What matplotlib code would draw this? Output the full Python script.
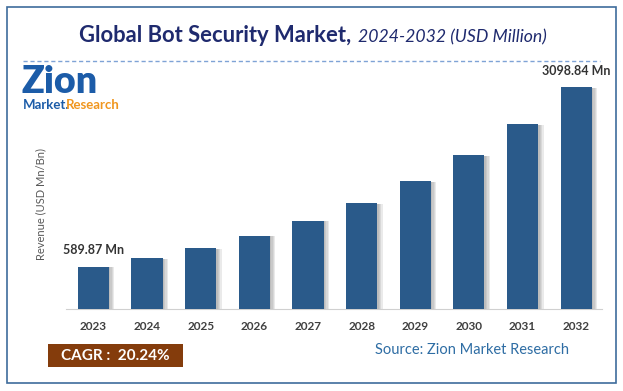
import matplotlib.pyplot as plt
import matplotlib.patheffects as pe
from matplotlib.patches import Rectangle

years = ['2023', '2024', '2025', '2026', '2027', '2028', '2029', '2030', '2031', '2032']
revenue = [589.87, 709, 853, 1025, 1233, 1482, 1782, 2143, 2576, 3098.84]
first_label = '589.87 Mn'
last_label = '3098.84 Mn'
cagr_text = 'CAGR :  20.24%'
source_text = 'Source: Zion Market Research'

W, H = 623, 391
bar_color = '#2A5A8A'
font = 'Lato'

fig = plt.figure(figsize=(W / 100, H / 100), dpi=100)
fig.patch.set_facecolor('white')


def fx(px):
    return px / W


def fy(py):
    return 1 - py / H


# outer frame
fig.add_artist(Rectangle((fx(7), fy(383)), fx(616) - fx(7), fy(7) - fy(383),
                         transform=fig.transFigure, fill=False,
                         edgecolor='#3E6C9C', linewidth=1.2))

# title: bold part + italic part
fig.text(fx(351), fy(36), 'Global Bot Security Market,', ha='right', va='center',
         fontsize=15.8, fontweight='bold', color='#1F2A6E', family=font)
fig.text(fx(358), fy(37), '2024-2032 (USD Million)', ha='left', va='center',
         fontsize=12.7, fontstyle='italic', color='#1F2A6E', family=font)

# dashed separator
fig.add_artist(plt.Line2D([fx(23), fx(600)], [fy(61), fy(61)], transform=fig.transFigure,
                          color='#7FA3D6', linewidth=1, linestyle=(0, (3, 2))))

# logo
fig.text(fx(22), fy(82), 'Zion', ha='left', va='center', fontsize=27,
         fontweight='heavy', color='#1C5CA8', family=font)
fig.text(fx(23), fy(105), 'Market.', ha='left', va='center', fontsize=9.5,
         fontweight='bold', color='#1C5CA8', family=font)
fig.text(fx(66), fy(105), 'Research', ha='left', va='center', fontsize=9.5,
         fontweight='bold', color='#F0961E', family=font)

# axes
ax = fig.add_axes([fx(66), fy(309), fx(602) - fx(66), fy(80) - fy(309)])
x = range(len(years))
bars = ax.bar(x, revenue, width=0.58, color=bar_color, zorder=3)
# soft shadow to the right of each bar
shadow = [pe.SimplePatchShadow(offset=(k, -0.5), shadow_rgbFace='#707070', alpha=0.14)
          for k in (4, 3, 2, 1)]
for b in bars:
    b.set_path_effects(shadow + [pe.Normal()])

ax.set_xlim(-0.51, 9.48)
ax.set_ylim(0, 3196)
ax.set_xticks(list(x))
ax.set_xticklabels(years, fontsize=8.5, fontweight='bold', color='#404040', family=font)
ax.tick_params(axis='x', length=0, pad=9)
ax.set_yticks([])
for s in ['top', 'right', 'left']:
    ax.spines[s].set_visible(False)
ax.spines['bottom'].set_color('#D0D0D0')
ax.set_facecolor('none')

ax.annotate(first_label, (0, revenue[0]), xytext=(0, 8), textcoords='offset points',
            ha='center', va='bottom', fontsize=9, fontweight='bold', color='#333333', family=font)
ax.annotate(last_label, (9, revenue[-1]), xytext=(0, 7), textcoords='offset points',
            ha='center', va='bottom', fontsize=9, fontweight='bold', color='#333333', family=font)

fig.text(fx(41), fy(204), 'Revenue (USD Mn/Bn)', rotation=90, ha='center', va='center',
         fontsize=8, color='#595959', family=font)

# CAGR box
fig.add_artist(Rectangle((fx(48), fy(367)), fx(183) - fx(48), fy(344) - fy(367),
                         transform=fig.transFigure, facecolor='#843C0C', edgecolor='none'))
fig.text(fx(115.5), fy(356), cagr_text, ha='center', va='center', fontsize=11,
         fontweight='bold', color='white', family=font)

fig.text(fx(472), fy(350), source_text, ha='center', va='center', fontsize=10.5,
         color='#2E6DA4', family=font)

fig.savefig('out.png', dpi=100)
